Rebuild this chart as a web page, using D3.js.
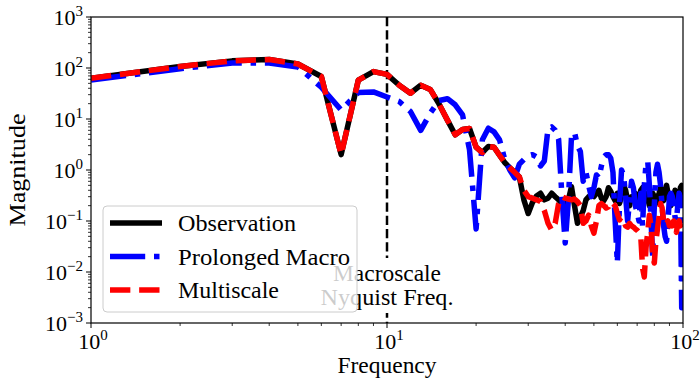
<!DOCTYPE html>
<html>
<head>
  <meta charset="UTF-8">
  <title>Magnitude spectrum</title>
  <style>
    body { margin: 0; background: #fff; }
    svg text { font-family: "Liberation Serif", "Times New Roman", serif; fill: #000; }
  </style>
</head>
<body>
  <div id="chart"></div>
  <script src="https://d3js.org/d3.v7.min.js"></script>
  <script>
    // frequencies 1..100 (integer FFT bins)
    const freq = d3.range(1, 101);

    const observation = [
      63, 107, 138, 147, 120, 68, 2.0, 58, 85, 75,
      46, 32, 46, 38, 19.5, 9.5, 4.9, 6.2, 6.5, 2.8,
      2.2, 2.9, 2.8, 1.95, 1.4, 1.1, 0.9, 0.73, 0.26, 0.14,
      0.23, 0.31, 0.35, 0.26, 0.28, 0.35, 0.30, 0.26, 0.22, 0.19,
      0.26, 0.47, 0.20, 0.09, 0.12, 0.16, 0.26, 0.30, 0.32, 0.30,
      0.35, 0.40, 0.28, 0.25, 0.30, 0.45, 0.38, 0.30, 0.25, 0.35,
      0.22, 0.30, 0.50, 0.40, 0.25, 0.20, 0.30, 0.28, 0.35, 0.30,
      0.25, 0.40, 0.45, 0.30, 0.35, 0.28, 0.20, 0.25, 0.35, 0.30,
      0.22, 0.28, 0.35, 0.45, 0.30, 0.25, 0.40, 0.50, 0.35, 0.25,
      0.20, 0.30, 0.28, 0.40, 0.35, 0.30, 0.25, 0.45, 0.50, 0.30
    ];

    const prolongedMacro = [
      58, 97, 125, 125, 105, 42, 15, 33, 34, 27,
      22, 14, 6, 13, 23, 25, 19, 12, 2.5, 0.07,
      3.9, 6.6, 5.6, 3.9, 1.6, 1.0, 0.7, 1.3, 1.6, 1.9,
      2.0, 1.8, 1.2, 1.5, 6.5, 7.0, 6.0, 4.0, 0.3, 0.037,
      0.26, 4.5, 5.5, 3.0, 2.3, 0.6, 0.9, 0.5, 0.3, 0.45,
      0.8, 0.7, 1.2, 1.8, 2.0, 2.0, 1.7, 0.9, 0.1, 0.015,
      0.2, 1.0, 0.8, 0.3, 0.1, 0.25, 0.6, 0.45, 0.2, 0.15,
      0.1, 0.35, 0.08, 0.5, 1.3, 1.5, 0.5, 0.1, 0.02, 0.2,
      0.9, 1.3, 0.9, 0.5, 0.2, 0.08, 0.05, 0.04, 0.1, 0.3,
      0.35, 0.3, 0.2, 0.12, 0.1, 0.2, 0.35, 0.3, 0.002, 0.1
    ];

    const multiscale = [
      63, 107, 138, 147, 120, 68, 2.0, 58, 85, 75,
      46, 32, 46, 38, 19.5, 9.5, 4.9, 6.2, 6.5, 2.8,
      2.2, 2.9, 2.8, 1.95, 1.4, 1.1, 0.9, 0.73, 0.4, 0.3,
      0.28, 0.26, 0.24, 0.16, 0.09, 0.066, 0.09, 0.22, 0.3, 0.28,
      0.27, 0.26, 0.27, 0.24, 0.2, 0.09, 0.1, 0.13, 0.08, 0.058,
      0.1, 0.2, 0.22, 0.2, 0.18, 0.19, 0.24, 0.22, 0.2, 0.14,
      0.105, 0.12, 0.1, 0.08, 0.076, 0.09, 0.08, 0.076, 0.07, 0.066,
      0.06, 0.05, 0.012, 0.008, 0.03, 0.06, 0.13, 0.08, 0.02, 0.015,
      0.04, 0.07, 0.12, 0.22, 0.18, 0.1, 0.11, 0.09, 0.1, 0.08,
      0.09, 0.08, 0.1, 0.07, 0.06, 0.09, 0.1, 0.08, 0.1, 0.12
    ];

    const seriesNames = ["Observation", "Prolonged Macro", "Multiscale"];
    const xTickExp = [0, 1, 2];
    const yTickExp = [-3, -2, -1, 0, 1, 2, 3];
    const nyquistFreq = 10;

    const width = 700, height = 381;
    const margin = { left: 91, right: 17, top: 17, bottom: 58 };

    const svg = d3.select("#chart").append("svg")
      .attr("width", width)
      .attr("height", height);

    const x = d3.scaleLog().domain([1, 100]).range([margin.left, width - margin.right]);
    const y = d3.scaleLog().domain([1e-3, 1e3]).range([height - margin.bottom, margin.top]);

    svg.append("clipPath").attr("id", "plot-clip")
      .append("rect")
      .attr("x", x.range()[0]).attr("y", y.range()[1])
      .attr("width", x.range()[1] - x.range()[0])
      .attr("height", y.range()[0] - y.range()[1]);

    const lw = 5.5;
    const styles = [
      { color: "#000000", dash: null },
      { color: "#0000ff", dash: [6.4 * lw, 1.6 * lw, 1 * lw, 1.6 * lw] },
      { color: "#ff0000", dash: [3.7 * lw, 1.6 * lw] }
    ];
    const data = [observation, prolongedMacro, multiscale];

    const line = d3.line()
      .x((d, i) => x(freq[i]))
      .y(d => y(d));

    const plot = svg.append("g").attr("clip-path", "url(#plot-clip)");

    // vertical Nyquist marker
    plot.append("line")
      .attr("x1", x(nyquistFreq)).attr("x2", x(nyquistFreq))
      .attr("y1", y.range()[1]).attr("y2", y.range()[0])
      .attr("stroke", "#000")
      .attr("stroke-width", 2.5)
      .attr("stroke-dasharray", "9.25,4");

    data.forEach((vals, k) => {
      plot.append("path")
        .datum(vals)
        .attr("d", line)
        .attr("fill", "none")
        .attr("stroke", styles[k].color)
        .attr("stroke-width", lw)
        .attr("stroke-linejoin", "round")
        .attr("stroke-dasharray", styles[k].dash ? styles[k].dash.join(",") : null);
    });

    // text with white box, covering the dashed line
    const nx = x(nyquistFreq);
    svg.append("rect")
      .attr("x", nx - 72).attr("y", 258)
      .attr("width", 144).attr("height", 55)
      .attr("fill", "#fff");
    const note = svg.append("text")
      .attr("text-anchor", "middle")
      .style("font-size", "23px");
    note.append("tspan").attr("x", nx).attr("y", 281)
      .attr("textLength", 108).attr("lengthAdjust", "spacingAndGlyphs").text("Macroscale");
    note.append("tspan").attr("x", nx).attr("y", 305)
      .attr("textLength", 133).attr("lengthAdjust", "spacingAndGlyphs").text("Nyquist Freq.");

    // axes frame
    svg.append("rect")
      .attr("x", x.range()[0]).attr("y", y.range()[1])
      .attr("width", x.range()[1] - x.range()[0])
      .attr("height", y.range()[0] - y.range()[1])
      .attr("fill", "none")
      .attr("stroke", "#000")
      .attr("stroke-width", 1.2);

    // ticks
    const minor = [];
    for (let e = -3; e < 3; e++) for (let m = 2; m < 10; m++) minor.push(m * Math.pow(10, e));
    const xMinor = [];
    for (let e = 0; e < 2; e++) for (let m = 2; m < 10; m++) xMinor.push(m * Math.pow(10, e));

    const ticks = svg.append("g").attr("stroke", "#000");
    yTickExp.forEach(e => {
      ticks.append("line").attr("x1", x.range()[0] - 5).attr("x2", x.range()[0])
        .attr("y1", y(Math.pow(10, e))).attr("y2", y(Math.pow(10, e))).attr("stroke-width", 1);
    });
    minor.forEach(v => {
      ticks.append("line").attr("x1", x.range()[0] - 3).attr("x2", x.range()[0])
        .attr("y1", y(v)).attr("y2", y(v)).attr("stroke-width", 0.8);
    });
    xTickExp.forEach(e => {
      ticks.append("line").attr("y1", y.range()[0]).attr("y2", y.range()[0] + 5)
        .attr("x1", x(Math.pow(10, e))).attr("x2", x(Math.pow(10, e))).attr("stroke-width", 1);
    });
    xMinor.forEach(v => {
      ticks.append("line").attr("y1", y.range()[0]).attr("y2", y.range()[0] + 3)
        .attr("x1", x(v)).attr("x2", x(v)).attr("stroke-width", 0.8);
    });

    function powLabel(g, e, px, py, anchor) {
      const t = g.append("text")
        .attr("x", px).attr("y", py)
        .attr("text-anchor", anchor)
        .style("font-size", "22px");
      t.append("tspan").text("10");
      t.append("tspan")
        .attr("dy", -9)
        .style("font-size", "15px")
        .text(e < 0 ? "\u2212" + Math.abs(e) : String(e));
    }

    yTickExp.forEach(e => powLabel(svg, e, x.range()[0] - 8, y(Math.pow(10, e)) + 8, "end"));
    xTickExp.forEach(e => powLabel(svg, e, x(Math.pow(10, e)) + 2, y.range()[0] + 26, "middle"));

    svg.append("text")
      .attr("x", (x.range()[0] + x.range()[1]) / 2)
      .attr("y", 373)
      .attr("text-anchor", "middle")
      .attr("textLength", 99).attr("lengthAdjust", "spacingAndGlyphs")
      .style("font-size", "23px")
      .text("Frequency");

    svg.append("text")
      .attr("transform", `translate(25,${(y.range()[0] + y.range()[1]) / 2}) rotate(-90)`)
      .attr("text-anchor", "middle")
      .attr("textLength", 113).attr("lengthAdjust", "spacingAndGlyphs")
      .style("font-size", "23px")
      .text("Magnitude");

    // legend
    const legendWidths = [118, 172, 101];
    const legend = svg.append("g");
    legend.append("rect")
      .attr("x", 103).attr("y", 206)
      .attr("width", 254).attr("height", 106)
      .attr("rx", 4)
      .attr("fill", "#fff").attr("fill-opacity", 0.8)
      .attr("stroke", "#ccc").attr("stroke-width", 1);
    seriesNames.forEach((name, k) => {
      const ly = 223 + k * 33.5;
      legend.append("line")
        .attr("x1", 110).attr("x2", 162)
        .attr("y1", ly).attr("y2", ly)
        .attr("stroke", styles[k].color)
        .attr("stroke-width", lw)
        .attr("stroke-dasharray", styles[k].dash ? styles[k].dash.join(",") : null);
      legend.append("text")
        .attr("x", 178).attr("y", ly + 8)
        .attr("textLength", legendWidths[k]).attr("lengthAdjust", "spacingAndGlyphs")
        .style("font-size", "23px")
        .text(name);
    });
  </script>
</body>
</html>
